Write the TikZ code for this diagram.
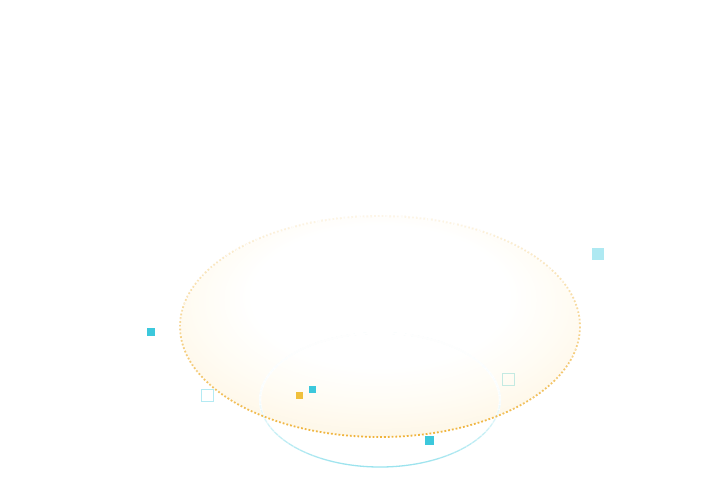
\documentclass[tikz,border=0pt]{standalone}
\definecolor{cyanc}{HTML}{3CC8DC}
\definecolor{lcyan}{HTML}{AEE9F2}
\definecolor{outc}{HTML}{B4EAF3}
\definecolor{outg}{HTML}{C4EAE2}
\definecolor{yelc}{HTML}{F0C03C}
\definecolor{creamc}{HTML}{FFFCF4}
\definecolor{creamd}{HTML}{FEF5E3}
\definecolor{dotc}{HTML}{F0B43C}
\definecolor{ringc}{HTML}{9AE3EE}
\pgfdeclareradialshading{eggshade}{\pgfpoint{0bp}{10bp}}{color(0bp)=(white); color(16bp)=(white); color(23bp)=(creamc); color(32bp)=(creamd); color(50bp)=(creamd)}
\tikzset{
  fsq/.style={draw=none, minimum size=#1, inner sep=0pt},
  osq/.style={fill=none, line width=1.4pt, minimum size=#1, inner sep=0pt},
}
\begin{document}
\begin{tikzpicture}[x=1pt,y=-1pt]
\useasboundingbox (0,0) rectangle (711,501);
\coordinate (egg) at (380,326.5);
\coordinate (ring) at (380,400);
% egg fill
\shade[shading=eggshade] (egg) ellipse [x radius=200, y radius=110.5];
% cyan ring, faded towards the top by white overlay
\draw[ringc, line width=1.3pt] (ring) ellipse [x radius=120, y radius=67];
\foreach \a in {0,4,...,356}{
  \pgfmathsetmacro{\s}{sin(\a+2)}
  \pgfmathsetmacro{\op}{\s>0 ? 0.08+0.92*\s : 0.08*(1+\s)}
  \pgfmathsetmacro{\wo}{1-\op}
  \draw[white, opacity=\wo, line width=2.4pt] (ring) ++(\a-0.4:120 and 67) arc[start angle=\a-0.4, end angle=\a+4.4, x radius=120, y radius=67];
}
% dotted border, faded towards the top
\draw[dotc, line width=1.8pt, dash pattern=on 1.8pt off 2.0pt] (egg) ellipse [x radius=200, y radius=110.5];
\foreach \a in {0,4,...,356}{
  \pgfmathsetmacro{\s}{sin(\a+2)}
  \pgfmathsetmacro{\op}{0.12+0.88*(1+\s)/2}
  \pgfmathsetmacro{\wo}{1-\op}
  \draw[white, opacity=\wo, line width=2.8pt] (egg) ++(\a-0.2:200 and 110.5) arc[start angle=\a-0.2, end angle=\a+4.2, x radius=200, y radius=110.5];
}
% squares
\node[fsq=8.5pt, fill=cyanc] (s1) at (151,332) {};
\node[fsq=11.5pt, fill=lcyan] (s2) at (598,254) {};
\node[fsq=7pt, fill=yelc] (s3) at (299.5,395.5) {};
\node[fsq=7pt, fill=cyanc] (s4) at (312.5,389) {};
\node[fsq=9pt, fill=cyanc] (s5) at (429.5,440.5) {};
\node[osq=11.5pt, draw=outc] (s6) at (207.5,395.5) {};
\node[osq=11.5pt, draw=outg] (s7) at (508.5,379.5) {};
\end{tikzpicture}
\end{document}
